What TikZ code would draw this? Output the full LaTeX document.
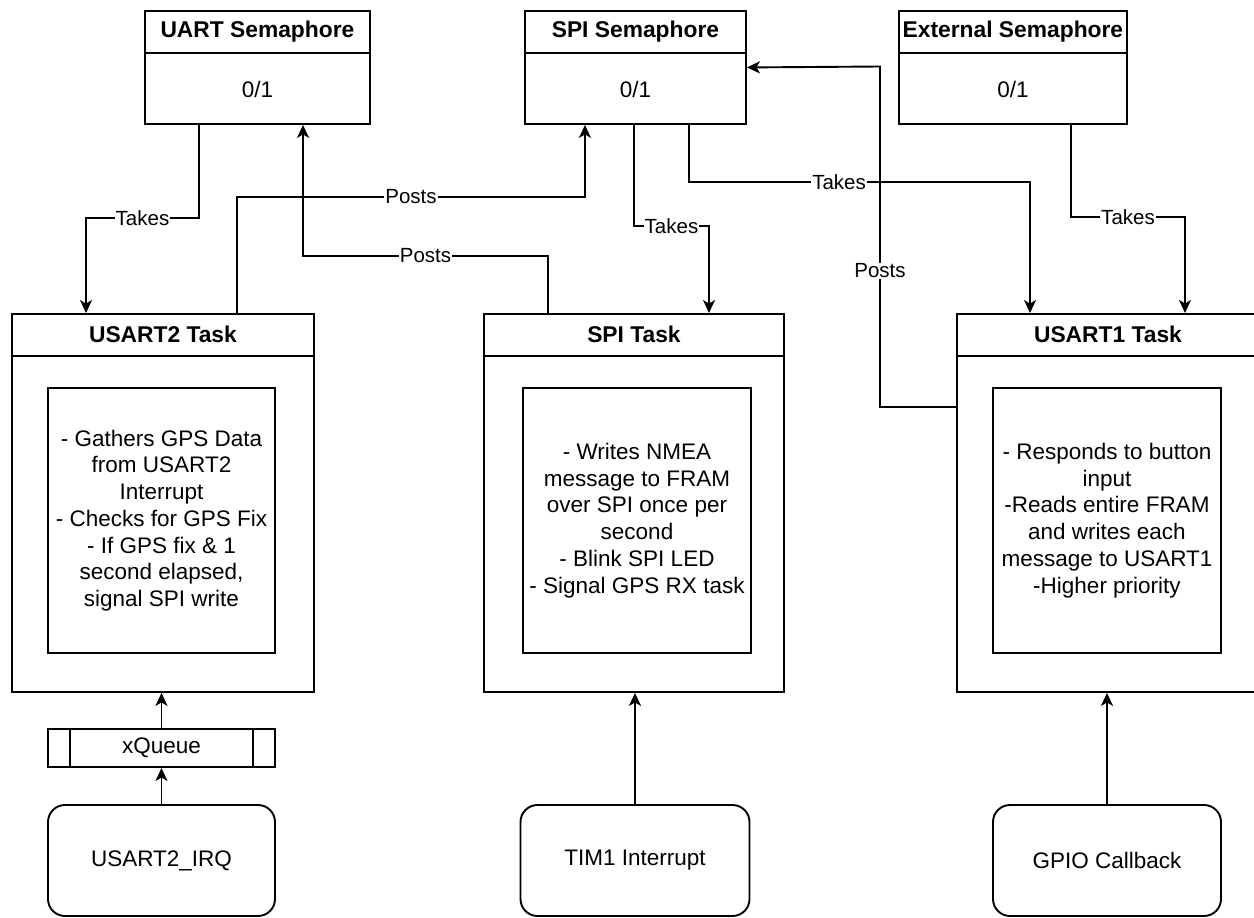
\documentclass[tikz,border=0pt]{standalone}
\usepackage{fontspec}
\setmainfont{Liberation Sans}
\usetikzlibrary{arrows.meta,calc}

\begin{document}
\begin{tikzpicture}[x=1pt,y=-1pt,line width=1.9pt,
  box/.style={draw,rectangle,inner sep=0pt},
  roundbox/.style={draw,rectangle,rounded corners=17pt,inner sep=0pt,
    font=\fontsize{22.5}{26.7}\selectfont},
  hdr/.style={font=\fontsize{22.8}{26}\selectfont\bfseries},
  body/.style={font=\fontsize{22.5}{26.7}\selectfont,align=center},
  lbl/.style={fill=white,inner sep=1pt,font=\fontsize{20.5}{24}\selectfont},
  conn/.style={-{Stealth[length=13pt,width=12pt,inset=3.5pt]}}
]
\useasboundingbox (0,0) rectangle (1254,918);

% ---------- semaphores ----------
\node[box,minimum width=225pt,minimum height=113pt,anchor=north west] (uartsem) at (144,10) {};
\node[box,minimum width=221pt,minimum height=113pt,anchor=north west] (spisem) at (524,10) {};
\node[box,minimum width=228pt,minimum height=113pt,anchor=north west] (extsem) at (898,10) {};
\foreach \s/\t in {uartsem/UART Semaphore,spisem/SPI Semaphore,extsem/External Semaphore}{
  \draw ([yshift=-43pt]\s.north west) -- ([yshift=-43pt]\s.north east);
  \node[hdr] at ([yshift=-21.5pt]\s.north) {\t};
  \node[body] at ([yshift=35pt]\s.south) {0/1};
}

% ---------- tasks ----------
\node[box,minimum width=302pt,minimum height=378pt,anchor=north west] (u2task) at (11,313) {};
\node[box,minimum width=300pt,minimum height=378pt,anchor=north west] (spitask) at (483,313) {};
\node[box,minimum width=302pt,minimum height=378pt,anchor=north west] (u1task) at (956,313) {};
\foreach \s/\t in {u2task/USART2 Task,spitask/SPI Task,u1task/USART1 Task}{
  \draw ([yshift=-43pt]\s.north west) -- ([yshift=-43pt]\s.north east);
  \node[hdr] at ([yshift=-21.5pt]\s.north) {\t};
}

\node[box,body,minimum width=227pt,minimum height=265pt] (u2body) at (161.5,520.5)
  {- Gathers GPS Data\\from USART2\\Interrupt\\- Checks for GPS Fix\\- If GPS fix \& 1\\second elapsed,\\signal SPI write};
\node[box,body,minimum width=228pt,minimum height=265pt] (spibody) at (637,520.5)
  {- Writes NMEA\\message to FRAM\\over SPI once per\\second\\- Blink SPI LED\\- Signal GPS RX task};
\node[box,body,minimum width=228pt,minimum height=265pt] (u1body) at (1107,520.5)
  {- Responds to button\\input\\-Reads entire FRAM\\and writes each\\message to USART1\\-Higher priority};

% ---------- queue and interrupt sources ----------
\node[box,body,minimum width=227pt,minimum height=38pt] (xq) at (161.5,748) {xQueue};
\draw ([xshift=23pt]xq.north west) -- ([xshift=23pt]xq.south west);
\draw ([xshift=-23pt]xq.north east) -- ([xshift=-23pt]xq.south east);

\node[roundbox,minimum width=227pt,minimum height=111pt] (irq) at (161.5,860.5) {USART2\_IRQ};
\node[roundbox,minimum width=229pt,minimum height=111pt] (tim) at (635,860.5) {TIM1 Interrupt};
\node[roundbox,minimum width=228pt,minimum height=111pt] (gpio) at (1107,860.5) {GPIO Callback};

\draw[conn] (irq.north) -- (xq.south);
\draw[conn] (xq.north) -- (xq.north |- u2task.south);
\draw[conn] (tim.north) -- (tim.north |- spitask.south);
\draw[conn] (gpio.north) -- (gpio.north |- u1task.south);

% ---------- semaphore traffic ----------
\draw[conn] (uartsem.south -| 199,0) -- ++(0,93)
  -| node[lbl,pos=0.25]{Takes} (u2task.north -| 86,0);
\draw[conn] (u2task.north -| 237,0) -- ++(0,-116)
  -| node[lbl,pos=0.25]{Posts} (spisem.south -| 585,0);
\draw[conn] (spitask.north -| 548,0) -- ++(0,-57)
  -| node[lbl,pos=0.25]{Posts} (uartsem.south -| 303,0);
\draw[conn] (spisem.south -| 634,0) -- ++(0,101)
  -| node[lbl,pos=0.25]{Takes} (spitask.north -| 709,0);
\draw[conn] (spisem.south -| 689,0) -- ++(0,57)
  -| node[lbl,pos=0.22]{Takes} (u1task.north -| 1030,0);
\draw[conn] (extsem.south -| 1071,0) -- ++(0,92)
  -| node[lbl,pos=0.25]{Takes} (u1task.north -| 1185,0);
\draw[conn] (u1task.west |- 0,407) -- (880,407)
  -- node[lbl,pos=0.4]{Posts} (880,66.5) -- (spisem.east);
\end{tikzpicture}
\end{document}
